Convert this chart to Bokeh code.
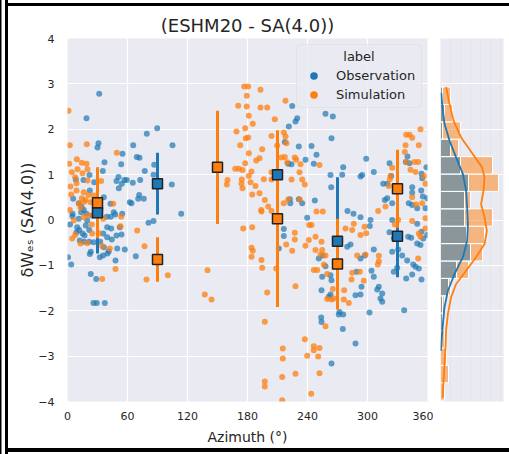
import numpy as np
from bokeh.plotting import figure
from bokeh.layouts import row
from bokeh.models import (Range1d, FixedTicker, Grid, Label, Legend, LegendItem,
                          BoxAnnotation, Title)
from bokeh.embed import file_html
from bokeh.resources import INLINE

FONT = "DejaVu Sans"
BLUE = "#1f77b4"
ORANGE = "#ff7f0e"
TXT = "#262626"
BG = "#eaeaf2"

# ---------------- data (azimuth, residual) ----------------
obs_points = [
    (31.7, 2.78), (19, 2.24), (31, 1.69), (30, 1.60), (37, 1.27), (35.3, 1.08), (22, 0.99), (16, 0.88),
    (26.7, 0.83), (8.3, 0.89), (22.3, 0.65), (49, 0.86), (51, 0.95), (55, 1.46), (53.7, 1.23), (57, 0.88),
    (54.3, 0.80), (51.3, 0.70), (5.7, 0.47), (11.3, 0.37), (14, 0.29), (5, 0.14), (5, 0.08), (16.3, 0.22),
    (39.3, 0.07), (43.3, 0.07), (47.7, 0.12), (36.3, 0.50), (43, 0.36), (46.3, 0.17), (24.7, 0.10), (19, 0.14),
    (13.7, 0.17), (11.3, 0.03), (19.7, -0.01), (28, 0.35), (33, 0.25), (2.5, -0.1), (54.7, 0.14),
    (39.7, -0.16), (43.7, -0.19), (39.7, -0.38), (49, -0.34), (35.7, -0.30), (52.3, -0.16), (36.3, -0.60),
    (41.3, -0.69), (32.3, -0.82), (49.7, -0.63), (48, -0.89), (17, -0.34), (12.3, -0.45), (26.3, -0.49),
    (9.7, -0.16), (11.7, -0.22), (9, -0.27), (15, -0.3), (18.3, -0.12), (21.7, -0.22), (32.7, -0.48),
    (44.3, -0.43), (54, -0.32), (23.3, -0.70), (22.3, -0.75), (35.7, -0.78), (40, -0.74), (0.5, -0.82),
    (3.7, -0.98), (23.3, -1.19), (28.7, -1.30), (26, -1.83), (29.3, -1.83), (37.3, -1.83), (16.7, -0.48),
    (21.7, -0.48), (57.3, -0.65),
    (65.7, 1.65), (79.3, 1.90), (89.7, 2.02), (105, 1.65), (69.3, 1.39), (72, 1.37), (59.3, 0.88), (65.3, 0.82),
    (72.7, 0.88), (77.3, 1.08), (86.7, 1.22), (86, 1.00), (71.7, 0.55), (70.7, 0.47), (76.3, 0.47), (62.3, 0.39),
    (64, 0.37), (104.3, 0.78), (113.7, 0.14), (81, -0.06), (86, -0.02), (68.3, -0.80),
    (224.7, 2.51), (229.7, 2.24), (228, 2.17), (221.3, 2.06), (217.3, 1.72), (231.3, 1.62), (220.7, 1.24),
    (224, 1.23), (238, 1.33), (222.3, 0.46), (222.8, 0.37), (231.3, 0.46), (234.7, 0.37), (239.7, 0.05),
    (216.3, -0.2), (216.3, -0.35), (211.3, -0.63),
    (258, 2.34), (265.3, 2.28), (264, 1.80), (244, 1.63), (249, 1.44), (246.3, 1.24), (275.7, 1.16),
    (298.7, 1.35), (306.3, 1.06), (293, 0.96), (294.7, 0.99), (274.7, 1.0), (263, 0.99), (247.3, 0.43),
    (263.7, 0.72), (280, 0.2), (286, 0.14), (293, 0.06),
    (251.3, -0.85), (255.3, -0.78), (258, -1.02), (254.7, -1.25), (263, -1.22), (264, -1.33), (254, -1.55),
    (263, -1.64), (261.3, -1.69), (253.7, -2.15), (254, -2.25), (272, -2.03), (271.3, -2.08), (275.7, -2.08),
    (275.3, -2.4), (288, -2.72), (264, -3.16), (302, -2.04), (279.7, -0.59), (283, -0.54), (289, -1.14),
    (294, -1.47), (293, -1.64), (288, -1.66), (304, -1.12), (306.3, -1.25), (309.7, -1.53), (311.3, -1.47),
    (314.7, -1.62), (313, -1.73), (314.7, -1.80), (293, -0.85), (297.3, -0.78), (302.3, -0.13), (306.3, -0.65),
    (303, -0.0),
    (322, 1.25), (340, 1.4), (338.3, 1.28), (342, 1.25), (354, 1.02), (359, 1.16), (315.7, 0.80), (319.7, 0.80),
    (323.7, 0.97), (354.7, 0.92), (344.7, 0.72), (344.7, 0.6), (353.7, 0.65), (355.3, 0.52), (317.3, 0.44),
    (319.7, 0.48), (324.7, 0.37), (341.3, 0.37), (344.7, 0.33), (349.7, 0.26), (359.7, 0.48), (358, 0.26),
    (324.7, -0.0), (322, -0.27), (326.3, -0.4), (331.3, -0.37), (330.7, -0.65), (324.7, -0.7), (334.7, -0.78),
    (339.7, -0.89), (345.7, -0.98), (329.7, -1.05), (326.3, -1.14), (338.7, -1.29), (344.7, -1.20), (354, -1.31),
    (351.3, -1.07), (348, -1.03), (349.7, -0.52), (353, -0.55), (359.7, -0.33), (355.7, -0.41), (340.7, -0.37),
    (343.7, -0.39), (349.7, -0.08), (354, -0.26), (336.7, -1.99),
]

sim_points = [
    (1, 2.41), (2.3, 1.65), (19.3, 1.67), (1.7, 1.24), (9.3, 1.34), (14.3, 1.26), (19, 1.24), (4.3, 1.05),
    (10, 1.12), (15, 1.03), (20, 1.12), (7.7, 0.94), (9, 0.81), (20, 0.87), (33.7, 0.86), (3.7, 0.56), (9, 0.65),
    (14.3, 0.48), (16.7, 0.40), (21, 0.55), (45.7, 0.36), (53.7, 0.07), (49.3, 1.48), (16.3, 0.61), (18, 0.44),
    (23, 0.39), (26.3, 0.54), (13, 0.27), (16.3, 0.06), (21.3, 0.10), (6.3, -0.01), (4.7, -0.41), (13, -0.52),
    (19.7, -0.51), (24.7, -0.30), (31.3, -0.29), (34.7, -0.58), (42.3, -0.63), (53, -0.14), (69.7, -0.23),
    (34.7, -1.30), (48, -1.08), (79, -1.31), (77, -0.58), (100.3, -1.22), (3, 0.74), (2.3, 0.22), (11.3, 0.36),
    (24.3, -0.10), (35.7, 0.03), (7.7, -0.33), (140, -1.11), (137.3, -1.64), (144, -1.75),
    (176.7, 2.94), (180.7, 2.94), (179.3, 2.74), (170.7, 2.52), (179.3, 2.50), (177.7, 2.02), (169, 1.95),
    (178.3, 1.80), (172.7, 1.65), (167.7, 1.13), (171.3, 1.13), (175, 1.10), (174.3, 0.89), (160, 0.88),
    (159.3, 0.78), (174, 0.80), (175, 0.70), (177.7, 1.25), (175.7, -0.19),
    (193, 2.87), (193, 2.48), (199.7, 2.48), (218, 2.63), (181.3, 2.3), (185.3, 2.12), (207.3, 2.22), (204, 1.85),
    (216.3, 1.93), (218, 1.84), (209.7, 1.64), (219, 1.69), (180.7, 1.82), (181.3, 1.47), (194.7, 1.56),
    (192, 1.36), (188.7, 1.31), (214, 1.38), (217.3, 1.39), (227.3, 1.38), (228.7, 1.33), (233, 1.23),
    (219.7, 1.27), (252, 1.21), (184, 1.07), (181.3, 0.97), (196.3, 0.90), (204, 1.05), (204, 0.89), (188, 0.75),
    (192, 0.59), (184.7, 0.56), (197.3, 0.44), (200.7, 0.30), (194, 0.19), (204, 0.20), (220.7, 0.45),
    (216.3, 0.37), (224, 0.89), (234.7, 0.89), (237.3, 0.78), (232, 1.05), (232.3, 0.45), (249, 0.19),
    (255.3, 0.19), (193.7, 0.22), (183, 0.83), (184.7, -0.16),
    (184, -0.61), (185.3, -0.68), (184, -0.81), (194, -0.88), (194.7, -1.05), (199.7, -1.6), (197.3, -2.24),
    (237.3, -2.63), (215.3, -2.83), (215.3, -3.05), (246.3, -2.78), (252, -2.82), (246.3, -2.87), (239.7, -2.99),
    (250.7, -3.01), (252, -3.38), (228, -3.39), (214.7, -3.46), (197.3, -3.56), (197.3, -3.67), (243.7, -3.83),
    (214.7, -3.97), (208.7, -1.07), (228, -1.46), (227.3, -0.28), (227.3, -0.43), (218.7, -0.54), (224.7, -0.68),
    (238, -0.57), (241.3, -0.44), (248, -0.37), (254, -0.48), (254.7, -0.66), (253, -0.76), (248, -0.66),
    (258, -0.78), (256.3, -0.98), (259.7, -1.19), (246.3, -1.1), (249.7, -1.1), (265.3, -1.52), (259.7, -1.74),
    (264, -1.75), (266.3, -1.73), (276.3, -1.75), (258, -2.34), (281.3, -1.83), (276.7, -1.55), (284, -1.31),
    (284.7, -1.16), (296.3, -1.34), (292.3, -1.14), (289.7, -0.78), (278, -0.19), (286.3, -0.08), (293, -0.33),
    (297, -0.15), (298.7, -0.29), (284.7, -0.22), (298, -0.76), (311.3, -0.79), (311.3, -0.91), (310.3, -0.98),
    (241.7, -0.11), (244, -0.11),
    (338.7, 1.88), (342, 1.88), (344.7, 1.81), (353, 2.0), (338, 1.65), (351.3, 1.65), (337.3, 1.50), (339, 1.28),
    (347, 1.28), (350.7, 1.28), (324.7, 1.15), (323, 0.97), (322.3, 0.89), (343, 1.11), (348, 1.06),
    (356.3, 0.97), (358, 0.80), (344.7, 0.50), (348.7, 0.34), (354.7, 0.37), (358, 0.04), (310.7, 0.20),
    (321.3, 0.75), (318, 0.3), (327.3, -0.1), (330.7, -0.0), (344.7, -0.02), (351.3, -0.3), (353, -0.37),
    (350.7, -0.85), (358, -0.19),
]

# binned mean +/- std
obs_bin_az = [30, 90, 210, 270, 330]
obs_bin_mean = [0.16, 0.80, 1.00, -0.47, -0.36]
obs_bin_std = [0.90, 0.68, 0.90, 1.41, 0.90]
sim_bin_az = [30, 90, 150, 210, 270, 330]
sim_bin_mean = [0.38, -0.87, 1.16, 0.03, -0.97, 0.69]
sim_bin_std = [0.78, 0.49, 1.25, 1.95, 1.00, 0.86]

# marginal histogram (bins bottom -> top)
hist_edges = [-3.970, -3.587, -3.203, -2.820, -2.437, -2.053, -1.670, -1.287, -0.903, -0.520,
              -0.137, 0.247, 0.630, 1.013, 1.397, 1.780, 2.163, 2.547, 2.930]
hist_obs_counts = [0, 0, 0, 0, 1, 1, 4, 8, 15, 13, 12, 12, 14, 10, 5, 1, 2, 1]
hist_sim_counts = [2, 4, 3, 2, 1, 2, 5, 14, 21, 22, 26, 15, 29, 26, 9, 10, 6, 5]

# marginal density curves (value, scaled count)
kde_obs_val = [2.80, 2.56, 2.12, 1.75, 1.38, 1.01, 0.65, 0.28, -0.09, -0.46, -0.82, -1.19, -1.56, -1.92, -2.29, -2.66, -2.88]
kde_obs_cnt = [0.4, 0.83, 2.0, 4.5, 7.8, 11.2, 12.8, 13.3, 13.7, 13.3, 11.2, 7.0, 3.7, 2.0, 1.2, 0.5, 0.2]
kde_sim_val = [2.93, 2.56, 2.19, 1.82, 1.45, 1.16, 0.94, 0.65, 0.35, 0.06, -0.24, -0.53, -0.82, -1.12, -1.41,
               -1.70, -2.07, -2.44, -2.81, -3.18, -3.55, -3.91]
kde_sim_cnt = [2.8, 4.5, 6.5, 10.3, 16.2, 20.8, 22, 21.5, 20.3, 22, 23.2, 22, 17.8, 12.8, 7.8, 5.3, 3.7, 2.8,
               2.5, 2.0, 1.5, 1.2]

x_ticks = [0, 60, 120, 180, 240, 300, 360]
y_ticks = [-4, -3, -2, -1, 0, 1, 2, 3, 4]

obs_az = [p[0] for p in obs_points]
obs_val = [p[1] for p in obs_points]
sim_az = [p[0] for p in sim_points]
sim_val = [p[1] for p in sim_points]

# ---------------- main panel ----------------
p = figure(width=433, height=454, x_range=Range1d(0, 360), y_range=Range1d(-4, 4),
           output_backend="svg", toolbar_location=None,
           min_border_left=67, min_border_right=6, min_border_top=38, min_border_bottom=53,
           background_fill_color=BG, border_fill_alpha=0, outline_line_color=None,
           title="(ESHM20 - SA(4.0))")
p.title.align = "center"
p.title.text_font = FONT
p.title.text_font_size = "18px"
p.title.text_font_style = "normal"
p.title.text_color = TXT
p.title.standoff = 6

p.xaxis.ticker = FixedTicker(ticks=x_ticks)
p.yaxis.ticker = FixedTicker(ticks=y_ticks)
p.yaxis.major_label_overrides = {t: (str(t).replace("-", "\u2212")) for t in y_ticks}
for ax in (p.xaxis[0], p.yaxis[0]):
    ax.axis_line_color = None
    ax.major_tick_line_color = None
    ax.minor_tick_line_color = None
    ax.major_tick_out = 0
    ax.major_tick_in = 0
    ax.major_label_text_font = FONT
    ax.major_label_text_font_size = "11px"
    ax.major_label_text_color = TXT
p.xaxis.major_label_standoff = 10
p.yaxis.major_label_standoff = 13
p.xaxis.axis_label = "Azimuth (\u00b0)"
p.xaxis.axis_label_text_font = FONT
p.xaxis.axis_label_text_font_size = "14px"
p.xaxis.axis_label_text_font_style = "normal"
p.xaxis.axis_label_text_color = TXT
p.xaxis.axis_label_standoff = 6
p.grid.grid_line_color = "white"
p.grid.grid_line_width = 1.2

# y axis label as a side title (shifted up like the reference)
p.add_layout(Title(text="\u03b4W\u2091\u209b (SA(4.0))", align="center", offset=48,
                   text_font=FONT, text_font_size="16px", text_font_style="normal",
                   text_color=TXT, standoff=-3), "left")

p.scatter(obs_az, obs_val, size=6, fill_color=BLUE, fill_alpha=0.7, line_color=None)
p.scatter(sim_az, sim_val, size=6, fill_color=ORANGE, fill_alpha=0.75, line_color=None)

obs_lo = [m - s for m, s in zip(obs_bin_mean, obs_bin_std)]
obs_hi = [m + s for m, s in zip(obs_bin_mean, obs_bin_std)]
sim_lo = [m - s for m, s in zip(sim_bin_mean, sim_bin_std)]
sim_hi = [m + s for m, s in zip(sim_bin_mean, sim_bin_std)]
p.segment(x0=obs_bin_az, y0=obs_lo, x1=obs_bin_az, y1=obs_hi, line_width=3, line_color=BLUE)
p.segment(x0=sim_bin_az, y0=sim_lo, x1=sim_bin_az, y1=sim_hi, line_width=3, line_color=ORANGE)
p.scatter(obs_bin_az, obs_bin_mean, marker="square", size=10, fill_color=BLUE,
          line_color="#222222", line_width=1.5)
p.scatter(sim_bin_az, sim_bin_mean, marker="square", size=10, fill_color=ORANGE,
          line_color="#222222", line_width=1.5)

# legend
p.add_layout(BoxAnnotation(left=229, right=354, top=3.866, bottom=2.478,
                           fill_color=BG, fill_alpha=0.85, line_color="#cccccc",
                           line_width=1, line_dash="solid", border_radius=4))
leg_obs = p.scatter(x=[-1000], y=[-1000], size=8, fill_color=BLUE, line_color=None)
leg_sim = p.scatter(x=[-1000], y=[-1000], size=8, fill_color=ORANGE, line_color=None)
legend = Legend(items=[LegendItem(label="Observation", renderers=[leg_obs]),
                       LegendItem(label="Simulation", renderers=[leg_sim])],
                location=(237, 297), glyph_width=19, glyph_height=19, spacing=0,
                padding=0, margin=0, label_standoff=13, label_text_font=FONT,
                label_text_font_size="13px", label_text_color=TXT,
                background_fill_alpha=0, border_line_color=None)
p.add_layout(legend)
p.add_layout(Label(x=291.5, y=3.6, text="label", text_align="center", text_baseline="middle",
                   text_font=FONT, text_font_size="13px", text_color=TXT))

# ---------------- marginal panel ----------------
p2 = figure(width=76, height=454, x_range=Range1d(0, 31.5), y_range=p.y_range,
            output_backend="svg", toolbar_location=None,
            x_axis_location=None, y_axis_location=None,
            min_border_left=7, min_border_right=6, min_border_top=38, min_border_bottom=53,
            background_fill_color=BG, border_fill_alpha=0, outline_line_color=None)
p2.add_layout(Grid(dimension=1, ticker=FixedTicker(ticks=y_ticks), grid_line_color="white",
                   grid_line_width=1.2))

lo_e = hist_edges[:-1]
hi_e = hist_edges[1:]
s_idx = [i for i, c in enumerate(hist_sim_counts) if c > 0]
o_idx = [i for i, c in enumerate(hist_obs_counts) if c > 0]
p2.quad(left=0, right=[hist_sim_counts[i] for i in s_idx], bottom=[lo_e[i] for i in s_idx],
        top=[hi_e[i] for i in s_idx], fill_color=ORANGE, fill_alpha=0.5, line_color="white", line_width=1)
p2.quad(left=0, right=[hist_obs_counts[i] for i in o_idx], bottom=[lo_e[i] for i in o_idx],
        top=[hi_e[i] for i in o_idx], fill_color=BLUE, fill_alpha=0.5, line_color="white", line_width=1)
p2.line(kde_obs_cnt, kde_obs_val, line_color=BLUE, line_width=1.8)
p2.line(kde_sim_cnt, kde_sim_val, line_color=ORANGE, line_width=1.8)

frame_shadow = ("inset 1.5px 0 0 0 #000, inset 5px 0 0 0 #fff, inset 8px 0 0 0 #000, "
                "inset 0 3px 0 0 #fff, inset 0 6px 0 0 #000, "
                "inset 0 -2px 0 0 #fff, inset 0 -6px 0 0 #000")
layout = row(p, p2, styles={"box-shadow": frame_shadow, "background-color": "white"})

html = file_html(layout, INLINE)
html = html.replace("<head>", "<head><style>html,body{margin:0;padding:0;}</style>", 1)
open("out.html", "w").write(html)
